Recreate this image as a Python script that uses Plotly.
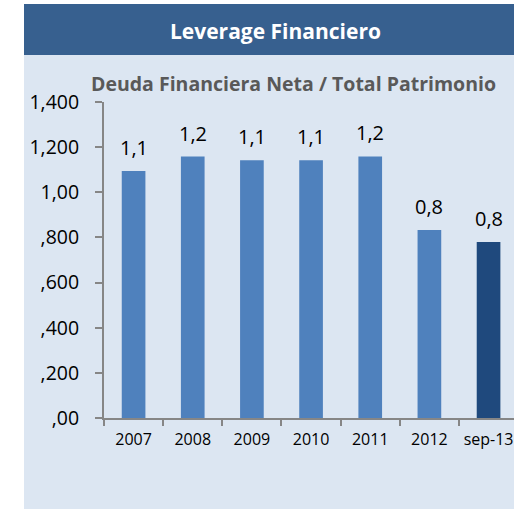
import plotly.graph_objects as go

categories = ["2007", "2008", "2009", "2010", "2011", "2012", "sep-13"]
values = [1.094, 1.158, 1.142, 1.142, 1.159, 0.833, 0.780]
bar_colors = ["#4F81BD"] * 6 + ["#1F497D"]
ytick_vals = [0, 0.2, 0.4, 0.6, 0.8, 1.0, 1.2, 1.4]
ytick_text = [",00", ",200", ",400", ",600", ",800", "1,00", "1,200", "1,400"]
title = "Leverage Financiero"
subtitle = "Deuda Financiera Neta / Total Patrimonio"

W, H = 514, 509
L, R, T, B = 104, 514, 102, 418  # plot area in px


def px(x):
    return (x - L) / (R - L)


def py(y):
    return (B - y) / (B - T)


FONT = "Open Sans"

fig = go.Figure(go.Bar(
    x=list(range(len(categories))), y=values,
    marker=dict(color=bar_colors, line=dict(width=0)),
    width=0.4, hoverinfo="skip",
))

annotations = []
for i, v in enumerate(values):
    annotations.append(dict(
        x=i, y=v, xref="x", yref="y", text=f"{v:.1f}".replace(".", ","),
        showarrow=False, yanchor="bottom", yshift=8,
        font=dict(family=FONT, size=20, color="#000000"),
    ))
annotations.append(dict(
    x=px(275), y=py(31), xref="paper", yref="paper", text=f"<b>{title}</b>",
    showarrow=False, xanchor="center", yanchor="middle",
    font=dict(family=FONT, size=21, color="#FFFFFF"),
))
annotations.append(dict(
    x=px(293), y=py(84), xref="paper", yref="paper", text=f"<b>{subtitle}</b>",
    showarrow=False, xanchor="center", yanchor="middle",
    font=dict(family=FONT, size=19.5, color="#595959"),
))

shapes = [
    dict(type="rect", xref="paper", yref="paper", x0=px(24), x1=px(514),
         y0=py(509), y1=py(55), fillcolor="#DCE6F2", line=dict(width=0), layer="below"),
    dict(type="rect", xref="paper", yref="paper", x0=px(24), x1=px(514),
         y0=py(55), y1=py(4), fillcolor="#37608F", line=dict(width=0), layer="below"),
]

fig.update_layout(
    width=W, height=H,
    margin=dict(l=L, r=W - R, t=T, b=H - B, pad=0),
    paper_bgcolor="#FFFFFF", plot_bgcolor="rgba(0,0,0,0)",
    showlegend=False, annotations=annotations, shapes=shapes,
)
fig.update_xaxes(
    type="linear",
    range=[-0.5, 6.43], tickvals=list(range(len(categories))), ticktext=categories,
    showgrid=False, zeroline=False,
    showline=True, linecolor="#868686", linewidth=2,
    ticks="", fixedrange=True, ticklabeloverflow="allow",
    tickfont=dict(family=FONT, size=16, color="#000000"),
    minor=dict(tickvals=[i - 0.5 for i in range(len(categories) + 1)],
               ticks="outside", ticklen=6, tickcolor="#868686", tickwidth=1.5),
    ticklabelstandoff=6,
)
fig.update_yaxes(
    range=[0, 1.4], tickvals=ytick_vals, ticktext=ytick_text,
    showgrid=False, zeroline=False,
    showline=True, linecolor="#868686", linewidth=2,
    ticks="outside", ticklen=7, tickcolor="#868686", tickwidth=1.5,
    ticklabelstandoff=12,
    tickfont=dict(family=FONT, size=19.5, color="#000000"), fixedrange=True,
)

fig.write_html(
    "out.html", config={"displayModeBar": False},
    post_script="document.body.style.margin='0';document.body.style.overflow='hidden';",
)
